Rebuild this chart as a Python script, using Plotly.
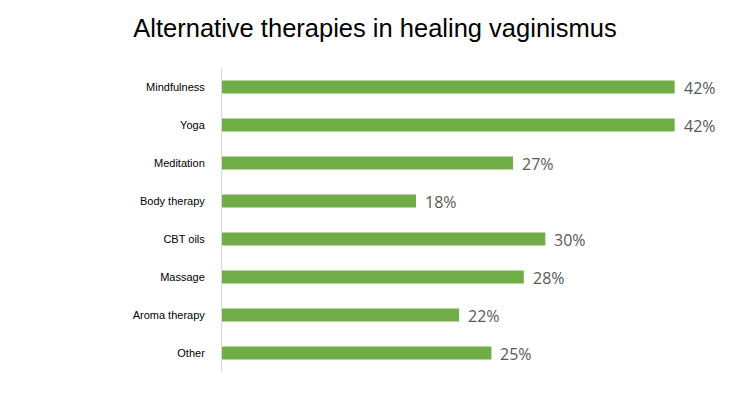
import plotly.graph_objects as go

categories = ["Mindfulness", "Yoga", "Meditation", "Body therapy", "CBT oils", "Massage", "Aroma therapy", "Other"]
values = [42, 42, 27, 18, 30, 28, 22, 25]
labels = [f"{v}%" for v in values]

fig = go.Figure()
fig.add_trace(go.Bar(
    y=categories, x=values, orientation="h",
    marker=dict(color="#70AD47", line=dict(width=0)),
    width=0.34,
    hoverinfo="skip",
))
for c, v, t in zip(categories, values, labels):
    fig.add_annotation(x=v, y=c, text=t, showarrow=False, xanchor="left",
                       xshift=7, yshift=-1,
                       font=dict(family="Open Sans, Liberation Sans, sans-serif", size=16, color="#595959"))

fig.update_layout(
    width=750, height=397,
    paper_bgcolor="white", plot_bgcolor="white",
    margin=dict(l=222, r=43, t=68, b=25),
    title=dict(text="Alternative therapies in healing vaginismus",
               x=375 / 750, xanchor="center", xref="container",
               y=1 - 28 / 397, yanchor="middle", yref="container",
               font=dict(family="Liberation Sans, Arial, sans-serif", size=25.5, color="#000000")),
    showlegend=False,
)
fig.update_xaxes(range=[0, 45], visible=False, fixedrange=True)
fig.update_yaxes(
    categoryorder="array", categoryarray=categories, autorange="reversed",
    showline=True, linecolor="#D9D9D9", linewidth=1,
    showgrid=False, ticks="", ticklabelstandoff=14,
    tickfont=dict(family="Liberation Sans, Arial, sans-serif", size=11, color="#000000"),
)
fig.write_html("out.html")
